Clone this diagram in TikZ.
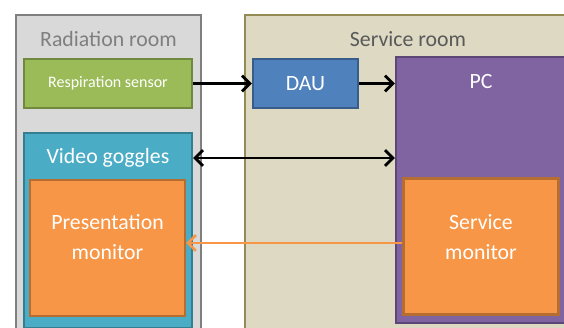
\documentclass[tikz,border=0pt]{standalone}
\usepackage{fontspec}
\setmainfont{Carlito}
\usetikzlibrary{arrows.meta,positioning,calc}

\definecolor{radfill}{HTML}{D9D9D9}
\definecolor{radborder}{HTML}{7F7F7F}
\definecolor{radtext}{HTML}{7F7F7F}
\definecolor{servfill}{HTML}{DDD9C3}
\definecolor{servborder}{HTML}{948A54}
\definecolor{servtext}{HTML}{595959}
\definecolor{sensorfill}{HTML}{9BBB59}
\definecolor{sensorborder}{HTML}{71893F}
\definecolor{daufill}{HTML}{4F81BD}
\definecolor{dauborder}{HTML}{385D8A}
\definecolor{pcfill}{HTML}{8064A2}
\definecolor{pcborder}{HTML}{5C4776}
\definecolor{gogglefill}{HTML}{4BACC6}
\definecolor{goggleborder}{HTML}{357D91}
\definecolor{monfill}{HTML}{F79646}
\definecolor{monborder}{HTML}{B66D31}

\begin{document}
\begin{tikzpicture}[
    room/.style={draw, rectangle, line width=1.6pt, inner sep=0pt, minimum height=6.60cm},
    unit/.style={draw, rectangle, line width=1.2pt, inner sep=0pt, text=white, font=\fontsize{12.4}{17}\selectfont},
    monitor/.style={unit, fill=monfill, draw=monborder, minimum width=3.10cm, minimum height=2.72cm},
    roomlabel/.style={font=\fontsize{12.4}{17}\selectfont},
    textlabel/.style={align=center, text=white, font=\fontsize{12.4}{17}\selectfont},
    link/.style={-{Straight Barb[length=4.5pt,width=9pt]}, line width=1.6pt, draw=black},
    feed/.style={-{Straight Barb[length=4.5pt,width=9pt]}, line width=1.5pt, draw=monfill},
]

\useasboundingbox (0,0) rectangle (11.28,6.56);
\clip (0,0) rectangle (11.28,6.56);

% Rooms
\node[room, draw=radborder, fill=radfill, minimum width=3.70cm] (radroom) at (2.17, 2.96) {};
\node[room, draw=servborder, fill=servfill, minimum width=6.80cm] (servroom) at (8.30, 2.96) {};
\node[roomlabel, text=radtext] (radlabel) at (2.17, 5.78) {Radiation room};
\node[roomlabel, text=servtext] (servlabel) at (8.16, 5.78) {Service room};

% Radiation room
\node[unit, fill=sensorfill, draw=sensorborder, minimum width=3.36cm, minimum height=0.98cm,
      font=\fontsize{9.1}{11}\selectfont] (sensor) at (2.16, 4.89) {Respiration sensor};
\node[unit, fill=gogglefill, draw=goggleborder, minimum width=3.36cm, minimum height=3.90cm] (goggles) at (2.16, 1.95) {};
\node[textlabel] (gogglelabel) at (2.16, 3.40) {Video goggles};
\node[monitor] (presmon) at (2.15, 1.60) {};
\node[textlabel] (presmonlabel) at (2.15, 1.82) {Presentation\\monitor};

% Service room
\node[unit, fill=daufill, draw=dauborder, minimum width=2.10cm, minimum height=0.98cm] (dau) at (6.11, 4.89) {DAU};
\node[unit, fill=pcfill, draw=pcborder, minimum width=3.40cm, minimum height=5.32cm] (pc) at (9.62, 2.76) {};
\node[textlabel] (pclabel) at (9.62, 4.92) {PC};
\node[monitor] (servmon) at (9.62, 1.63) {};
\node[textlabel] (servmonlabel) at (9.62, 1.82) {Service\\monitor};

% Connections
\draw[link] (sensor) -- (dau);
\draw[link] (dau) -- (dau -| pc.west);
\draw[link, {Straight Barb[length=4.5pt,width=9pt]}-{Straight Barb[length=4.5pt,width=9pt]}] (goggles.east |- gogglelabel) -- (pc.west |- gogglelabel);
\draw[feed] ([yshift=2pt]servmon.west) -- ([yshift=2pt]servmon.west -| presmon.east);

\end{tikzpicture}
\end{document}
